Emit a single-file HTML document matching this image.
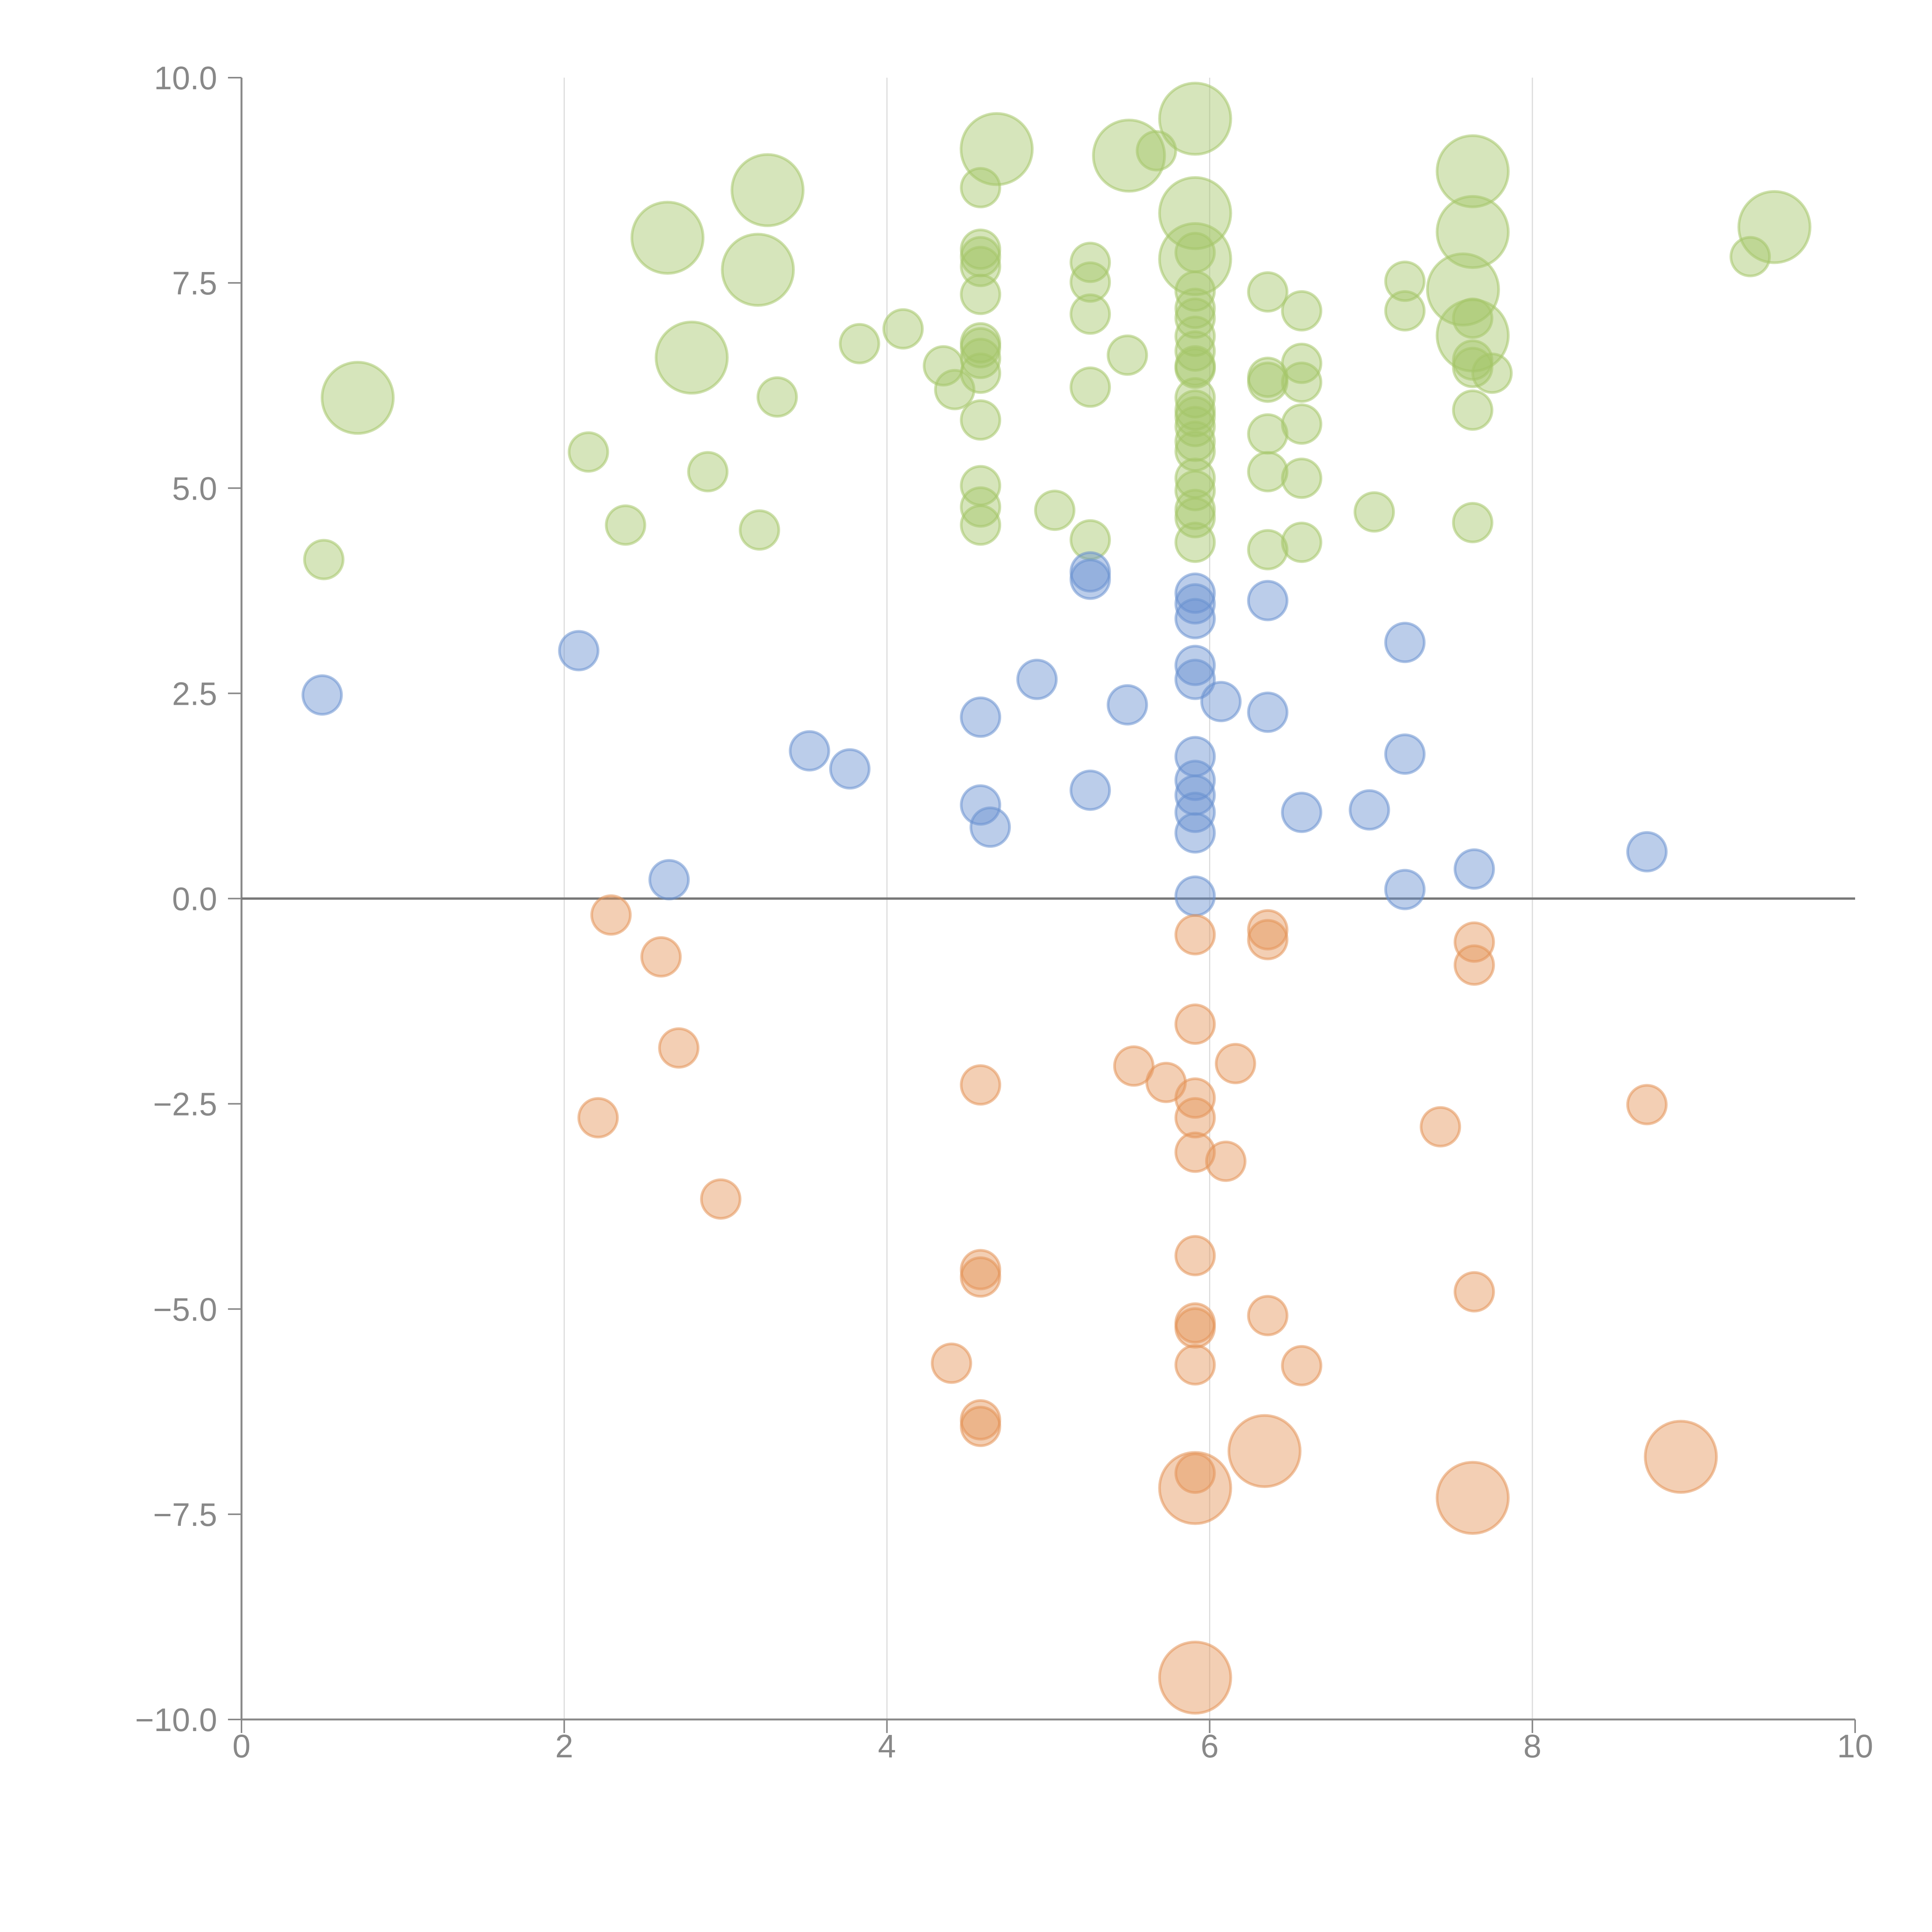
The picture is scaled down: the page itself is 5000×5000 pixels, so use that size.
<!DOCTYPE html>
<html><head><meta charset="utf-8">
<style>
html,body{margin:0;padding:0;background:#fff;}
svg{display:block;font-family:"Liberation Sans",Arial,sans-serif;}
</style></head>
<body>
<svg id="chart" width="5000" height="5000" viewBox="0 0 5000 5000" xmlns="http://www.w3.org/2000/svg">
<g id="grid"></g>
<g id="axes"></g>
<g id="marks"></g>
</svg>
<script>
const xTicks = [0, 2, 4, 6, 8, 10];
const xTickLabels = ["0", "2", "4", "6", "8", "10"];
const yTicks = [10, 7.5, 5, 2.5, 0, -2.5, -5, -7.5, -10];
const yTickLabels = ["10.0", "7.5", "5.0", "2.5", "0.0", "\u22122.5", "\u22125.0", "\u22127.5", "\u221210.0"];

const greenX = [0.72,0.51,2.15,2.38,2.64,2.79,2.89,3.21,3.26,3.20,3.32,3.83,4.10,4.35,4.42,
 4.58,4.58,4.58,4.58,4.58,4.58,4.58,4.58,4.58,4.58,4.58,4.58,4.58,4.68,5.04,5.26,5.26,5.26,5.26,5.26,5.49,5.50,5.67,
 5.91,5.91,5.91,5.91,5.91,5.91,5.91,5.91,5.91,5.91,5.91,5.91,5.91,5.91,5.91,5.91,5.91,5.91,5.91,5.91,5.91,5.91,
 6.36,6.36,6.36,6.36,6.36,6.36,6.57,6.57,6.57,6.57,6.57,6.57,7.02,7.21,7.21,
 7.63,7.63,7.57,7.63,7.63,7.63,7.63,7.75,7.63,7.63,9.35,9.50];
const greenY = [6.10,4.13,5.44,4.55,8.05,6.59,5.20,4.49,8.63,7.66,6.11,6.76,6.94,6.49,6.20,
 8.66,7.91,7.82,7.70,7.36,6.77,6.71,6.58,6.40,5.83,5.03,4.77,4.55,9.13,4.73,7.75,7.51,7.12,6.23,4.37,6.62,9.05,9.11,
 9.50,8.35,7.79,7.87,7.40,7.19,7.07,6.85,6.67,6.49,6.46,6.10,5.95,5.87,5.75,5.57,5.45,5.12,4.97,4.74,4.64,4.34,
 7.39,6.35,6.29,5.66,5.20,4.25,7.16,6.52,6.29,5.78,5.12,4.34,4.71,7.52,7.16,
 8.86,8.12,7.42,6.86,7.07,6.56,6.47,6.40,5.95,4.58,7.82,8.18];
const greenSize = [3.4,1,1,1,3.4,3.4,1,1,3.4,3.4,1,1,1,1,1,
 1,1,1,1,1,1,1,1,1,1,1,1,1,3.4,1,1,1,1,1,1,1,3.4,1,
 3.4,3.4,3.4,1,1,1,1,1,1,1,1,1,1,1,1,1,1,1,1,1,1,1,
 1,1,1,1,1,1,1,1,1,1,1,1,1,1,1,
 3.4,3.4,3.4,3.4,1,1,1,1,1,1,1,3.4];

const blueX = [0.50,2.09,2.65,3.52,3.77,4.58,4.58,4.64,4.93,5.26,5.26,5.26,5.49,5.91,5.91,5.91,5.91,5.91,5.91,5.91,5.91,5.91,5.91,5.91,6.07,6.36,6.36,6.57,6.99,7.21,7.21,7.21,7.64,8.71];
const blueY = [2.48,3.02,0.23,1.80,1.58,2.21,1.14,0.87,2.67,3.98,3.89,1.32,2.36,3.72,3.59,3.41,2.84,2.67,1.73,1.44,1.26,1.05,0.80,0.03,2.40,3.63,2.27,1.05,1.08,3.12,1.76,0.11,0.36,0.57];

const orangeX = [2.29,2.60,2.71,2.21,2.97,4.58,4.58,4.58,4.40,4.58,4.58,5.53,5.73,6.16,5.91,5.91,5.91,5.91,5.91,6.10,5.91,5.91,5.91,5.91,5.91,5.91,5.91,6.36,6.36,6.36,6.57,6.34,7.43,7.64,7.64,7.64,7.63,8.71,8.92];
const orangeY = [-0.20,-0.71,-1.82,-2.67,-3.66,-2.27,-4.52,-4.61,-5.66,-6.35,-6.43,-2.04,-2.24,-2.01,-0.44,-1.53,-2.43,-2.67,-3.09,-3.20,-4.35,-5.17,-5.23,-5.68,-7.00,-7.18,-9.49,-0.38,-0.50,-5.08,-5.69,-6.73,-2.78,-0.53,-0.81,-4.79,-7.30,-2.51,-6.80];
const orangeSize = [1,1,1,1,1,1,1,1,1,1,1,1,1,1,1,1,1,1,1,1,1,1,1,1,1,3.4,3.4,1,1,1,1,3.4,1,1,1,1,3.4,1,3.4];

const NS = "http://www.w3.org/2000/svg";
const X0 = 625, X1 = 4801, Y0 = 4450, Y1 = 201;
function sx(v){ return X0 + (v - 0) / 10 * (X1 - X0); }
function sy(v){ return Y0 - (v + 10) / 20 * (Y0 - Y1); }
function mk(tag, attrs, parent){
  const e = document.createElementNS(NS, tag);
  for (const k in attrs) e.setAttribute(k, attrs[k]);
  parent.appendChild(e);
  return e;
}
const grid = document.getElementById('grid');
const axes = document.getElementById('axes');
const marks = document.getElementById('marks');

xTicks.forEach((t, i) => {
  if (t === 0 || t === 10) return;
  const l = mk('line', {x1: sx(t), x2: sx(t), y1: Y1, y2: Y0, stroke: '#dcdcdc', 'stroke-width': 3}, grid);
  
  
});

const ya = mk('line', {x1: X0, x2: X0, y1: Y1, y2: Y0, stroke: '#888', 'stroke-width': 5}, axes);


const xa = mk('line', {x1: X0, x2: X1, y1: Y0, y2: Y0, stroke: '#888', 'stroke-width': 5}, axes);



xTicks.forEach((t, i) => {
  const tk = mk('line', {x1: sx(t), x2: sx(t), y1: Y0, y2: Y0 + 35, stroke: '#888', 'stroke-width': 4}, axes);
  
  
  const tx = mk('text', {x: sx(t), y: 4548, 'font-size': 84, fill: '#888', 'text-anchor': 'middle'}, axes);
  tx.textContent = xTickLabels[i];
  
  
});
yTicks.forEach((t, i) => {
  const tk = mk('line', {x1: X0 - 35, x2: X0, y1: sy(t), y2: sy(t), stroke: '#888', 'stroke-width': 4}, axes);
  
  
  const tx = mk('text', {x: 562, y: sy(t) + 30, 'font-size': 84, fill: '#888', 'text-anchor': 'end'}, axes);
  tx.textContent = yTickLabels[i];
  
  
});

const zl = mk('line', {x1: X0, x2: X1, y1: sy(0), y2: sy(0), stroke: '#777', 'stroke-width': 6}, axes);



function series(xs, ys, sizes, color, name){
  const g = mk('g', {}, marks);
  
  
  xs.forEach((x, i) => {
    const s = sizes ? sizes[i] : 1;
    const r = 50 * Math.sqrt(s);
    const c = mk('circle', {cx: sx(x), cy: sy(ys[i]), r: r, fill: color, 'fill-opacity': 0.45,
      stroke: color, 'stroke-opacity': 0.55, 'stroke-width': 7}, g);
    
    
  });
}
series(greenX, greenY, greenSize, 'rgb(165,198,105)', 'green');
series(blueX, blueY, null, 'rgb(105,145,208)', 'blue');
series(orangeX, orangeY, orangeSize, 'rgb(228,148,88)', 'orange');
</script>
</body></html>
